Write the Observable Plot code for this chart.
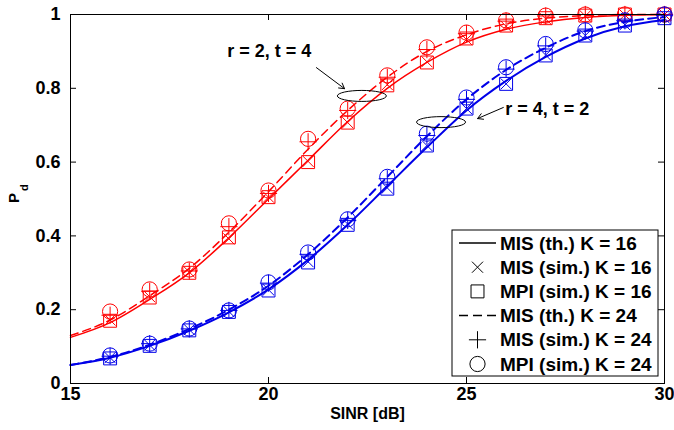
<!DOCTYPE html>
<html><head><meta charset="utf-8">
<script src="https://cdn.jsdelivr.net/npm/d3@7"></script>
<script src="https://cdn.jsdelivr.net/npm/@observablehq/plot@0.6"></script>
<style>
body{margin:0;background:#fff}
#chart svg text{font-family:"Liberation Sans",Arial,Helvetica,sans-serif;}
</style>
</head><body><div id="chart"></div>
<script>
// ---- data ----
const sinrTh = [15,16,17,18,19,20,21,22,23,24,25,26,27,28,29,30];
const sinrSim = [16,17,18,19,20,21,22,23,24,25,26,27,28,29,30];

// r = 2, t = 4 (red)
const redTh16  = [0.125,0.165,0.228,0.300,0.395,0.500,0.605,0.710,0.800,0.870,0.925,0.960,0.980,0.992,0.998,1.000];
const redTh24  = [0.130,0.172,0.238,0.312,0.410,0.520,0.635,0.740,0.830,0.900,0.945,0.975,0.990,0.997,1.000,1.000];
const redMisSim16 = [0.172,0.235,0.302,0.392,0.505,0.602,0.707,0.810,0.872,0.932,0.968,0.988,0.996,0.999,1.000];
const redMpiSim16 = [0.170,0.233,0.300,0.396,0.505,0.600,0.707,0.808,0.870,0.935,0.970,0.990,0.997,1.000,1.000];
const redMisSim24 = [0.185,0.250,0.305,0.425,0.515,0.655,0.740,0.830,0.905,0.948,0.982,0.996,1.000,1.000,1.000];
const redMpiSim24 = [0.195,0.255,0.309,0.434,0.523,0.663,0.745,0.835,0.911,0.951,0.984,0.997,1.000,1.000,1.000];

// r = 4, t = 2 (blue)
const blueTh16 = [0.050,0.070,0.102,0.143,0.193,0.255,0.335,0.430,0.535,0.640,0.740,0.820,0.885,0.935,0.968,0.985];
const blueTh24 = [0.050,0.072,0.105,0.148,0.200,0.265,0.350,0.450,0.560,0.670,0.770,0.850,0.910,0.955,0.980,0.993];
const blueMisSim16 = [0.070,0.104,0.146,0.195,0.254,0.330,0.432,0.530,0.645,0.745,0.812,0.890,0.943,0.972,0.990];
const blueMpiSim16 = [0.068,0.102,0.144,0.194,0.252,0.328,0.430,0.528,0.645,0.745,0.812,0.889,0.943,0.970,0.990];
const blueMisSim24 = [0.074,0.108,0.148,0.198,0.272,0.350,0.442,0.555,0.672,0.770,0.852,0.915,0.955,0.983,0.998];
const blueMpiSim24 = [0.076,0.108,0.149,0.198,0.274,0.355,0.445,0.560,0.677,0.775,0.857,0.920,0.957,0.984,1.000];

const xTicks = [15,20,25,30];
const yTicks = [0,0.2,0.4,0.6,0.8,1];
const xTickLabels = ["15","20","25","30"];
const yTickLabels = ["0","0.2","0.4","0.6","0.8","1"];
const xInner = [20,25];
const yInner = [0.2,0.4,0.6,0.8];

const annoText = ["r = 2, t = 4","r = 4, t = 2"];
const annoX = [18.96, 25.98];
const annoY = [0.900, 0.742];
const arrowX1 = [21.21, 25.93], arrowY1 = [0.856, 0.748];
const arrowX2 = [21.92, 25.28], arrowY2 = [0.799, 0.718];
const ellipseX = [22.37, 24.37], ellipseY = [0.778, 0.707];

const legendLabels = ["MIS (th.) K = 16","MIS (sim.) K = 16","MPI (sim.) K = 16","MIS (th.) K = 24","MIS (sim.) K = 24","MPI (sim.) K = 24"];
const xLabel = "SINR [dB]";

// ---- styling ----
const FONT = '"Liberation Sans",Arial,Helvetica,sans-serif';
const RED = "#ff0000", BLUE = "#0000e8";
const W = 674, H = 430, mL = 70, mR = 10, mT = 14, mB = 47;
const fw = W - mL - mR, fh = H - mT - mB, tk = 6;
const DASH = "8,5";
const sym = {times:{r:5.1}, square:{r:7.3}, plus:{r:5.6}, circle:{r:7.6}};

const pts = (xs, ys) => xs.map((x,i)=>({x, y: ys[i]}));

function seriesMarks(th16, th24, mis16, mpi16, mis24, mpi24, color, sw){
  return [
    Plot.line(pts(sinrTh, th16), {x:"x", y:"y", stroke:color, strokeWidth:sw, curve:"monotone-x"}),
    Plot.line(pts(sinrTh, th24), {x:"x", y:"y", stroke:color, strokeWidth:sw, curve:"monotone-x", strokeDasharray:DASH}),
    Plot.dot(pts(sinrSim, mis16), {x:"x", y:"y", symbol:"times", r:sym.times.r, stroke:color, fill:"none", strokeWidth:1}),
    Plot.dot(pts(sinrSim, mpi16), {x:"x", y:"y", symbol:"square", r:sym.square.r, stroke:color, fill:"none", strokeWidth:1}),
    Plot.dot(pts(sinrSim, mis24), {x:"x", y:"y", symbol:"plus", r:sym.plus.r, stroke:color, fill:"none", strokeWidth:1}),
    Plot.dot(pts(sinrSim, mpi24), {x:"x", y:"y", symbol:"circle", r:sym.circle.r, stroke:color, fill:"none", strokeWidth:1})
  ];
}

const annos = annoText.map((t,i)=>({t, x:annoX[i], y:annoY[i]}));
const arrows = arrowX1.map((x1,i)=>({x1, y1:arrowY1[i], x2:arrowX2[i], y2:arrowY2[i]}));
const xTickData = xTicks.map((v,i)=>({v, t:xTickLabels[i]}));
const yTickData = yTicks.map((v,i)=>({v, t:yTickLabels[i]}));

const plot = Plot.plot({
  width: W, height: H,
  marginLeft: mL, marginRight: mR, marginTop: mT, marginBottom: mB,
  x: {domain: [15,30], axis: null},
  y: {domain: [0,1], axis: null},
  style: {fontFamily: FONT, fontSize: "18px", fontWeight: "bold", color: "black", background: "white"},
  marks: [
    Plot.ruleX(xInner, {insetTop: fh - tk, stroke: "black"}),
    Plot.ruleX(xInner, {insetBottom: fh - tk, stroke: "black"}),
    Plot.ruleY(yInner, {insetRight: fw - tk, stroke: "black"}),
    Plot.ruleY(yInner, {insetLeft: fw - tk, stroke: "black"}),
    ...seriesMarks(redTh16, redTh24, redMisSim16, redMpiSim16, redMisSim24, redMpiSim24, RED, 1.5),
    ...seriesMarks(blueTh16, blueTh24, blueMisSim16, blueMpiSim16, blueMisSim24, blueMpiSim24, BLUE, 2),
    Plot.frame({stroke: "black", strokeWidth: 1}),
    Plot.text(xTickData, {x:"v", text:"t", frameAnchor:"bottom", dy: 16, fontSize:18, fontWeight:"bold", fill:"black"}),
    Plot.text(yTickData, {y:"v", text:"t", frameAnchor:"left", dx: -10, textAnchor:"end", fontSize:18, fontWeight:"bold", fill:"black"}),
    Plot.text(annos, {x:"x", y:"y", text:"t", textAnchor:"start", fontSize:18, fontWeight:"bold", fill:"black"}),
    Plot.arrow(arrows, {x1:"x1", y1:"y1", x2:"x2", y2:"y2", stroke:"black", strokeWidth:1, headLength:9}),
    Plot.text([xLabel], {frameAnchor:"bottom", dy: 35, fontSize:16, fontWeight:"bold", fill:"black"}),
    Plot.text(["P"], {frameAnchor:"left", dx:-56, dy:4, rotate:-90, fontSize:15, fontWeight:"bold", fill:"black"}),
    Plot.text(["d"], {frameAnchor:"left", dx:-46, dy:-8, rotate:-90, fontSize:11, fontWeight:"bold", fill:"black"})
  ]
});
document.getElementById("chart").appendChild(plot);

const svg = d3.select(plot);

// ellipses (annotation), positioned through the plot scales
const sx = plot.scale("x"), sy = plot.scale("y");
ellipseX.forEach((ex,i)=>{
  svg.append("ellipse")
    .attr("cx", sx.apply(ex)).attr("cy", sy.apply(ellipseY[i]))
    .attr("rx", 24.5).attr("ry", 5.5)
    .attr("fill","none").attr("stroke","black").attr("stroke-width",1);
});

// legend
const lg = svg.append("g").attr("font-family",FONT)
  .attr("font-weight","bold").attr("font-size",19).attr("text-anchor","start");
const lx = 452, ly = 230, lw = 206, lh = 146, rowH = 24.2, row0 = 243;
lg.append("rect").attr("x",lx).attr("y",ly).attr("width",lw).attr("height",lh)
  .attr("fill","white").attr("stroke","black").attr("stroke-width",1);
const legendKinds = ["line","times","square","dash","plus","circle"];
const symMap = {times:d3.symbolTimes, square:d3.symbolSquare, plus:d3.symbolPlus, circle:d3.symbolCircle};
legendLabels.forEach((lab,i)=>{
  const cy = row0 + i*rowH;
  const k = legendKinds[i];
  if (k === "line" || k === "dash") {
    lg.append("line").attr("x1",459).attr("x2",496).attr("y1",cy).attr("y2",cy)
      .attr("stroke","black").attr("stroke-width",1.5)
      .attr("stroke-dasharray", k === "dash" ? "9,5" : null);
  } else {
    const r = sym[k].r;
    lg.append("path").attr("d", d3.symbol(symMap[k], Math.PI*r*r)())
      .attr("transform",`translate(477.5,${cy})`)
      .attr("fill","none").attr("stroke","black").attr("stroke-width",1);
  }
  lg.append("text").attr("x",500).attr("y",cy).attr("dy","0.35em")
    .attr("text-anchor","start").attr("fill","black").text(lab);
});
</script>
</body></html>
